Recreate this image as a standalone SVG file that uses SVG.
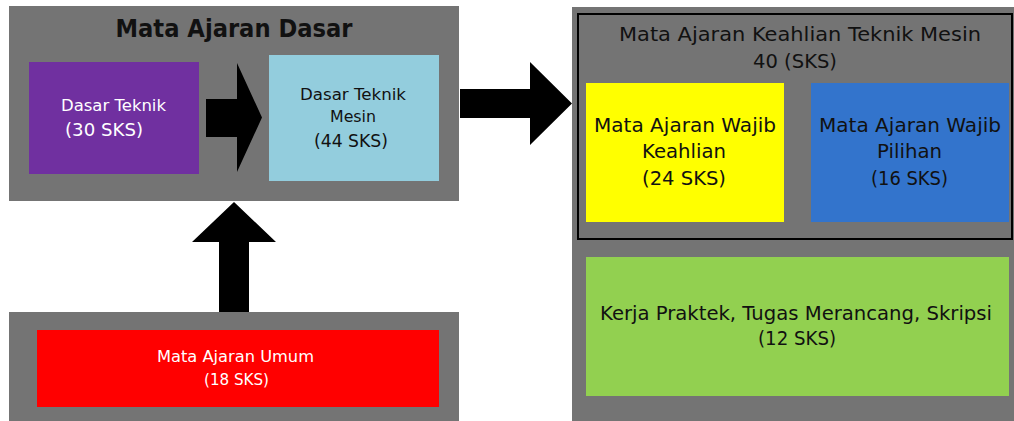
<svg xmlns="http://www.w3.org/2000/svg" width="1014" height="421" viewBox="0 0 1014 421">
  <style>
    .panel { fill: #747474; }
    .t { font-family: "DejaVu Sans", "Liberation Sans", sans-serif; text-anchor: middle; fill: #111111; }
    .w { fill: #ffffff; }
    .arrow { fill: #000000; }
  </style>
  <rect width="1014" height="421" fill="#ffffff"/>

  <!-- Basic courses panel -->
  <g id="dasar">
    <rect class="panel" x="9" y="6" width="450" height="195"/>
    <text class="t" x="234" y="37" font-size="24" font-weight="bold" textLength="237" lengthAdjust="spacingAndGlyphs">Mata Ajaran Dasar</text>
  </g>

  <g id="dasar-teknik">
    <rect x="29" y="62" width="170" height="112" fill="#7030A0"/>
    <text class="t w" x="113.5" y="111" font-size="16.5" textLength="105" lengthAdjust="spacingAndGlyphs">Dasar Teknik</text>
    <text class="t w" x="104" y="136" font-size="18" textLength="78" lengthAdjust="spacingAndGlyphs">(30 SKS)</text>
  </g>

  <g id="dasar-teknik-mesin">
    <rect x="269" y="55" width="170" height="126" fill="#93CDDD"/>
    <text class="t" x="353" y="100" font-size="16" textLength="106" lengthAdjust="spacingAndGlyphs">Dasar Teknik</text>
    <text class="t" x="353" y="122" font-size="16" textLength="46" lengthAdjust="spacingAndGlyphs">Mesin</text>
    <text class="t" x="351" y="147" font-size="18" textLength="74" lengthAdjust="spacingAndGlyphs">(44 SKS)</text>
  </g>

  <!-- General courses -->
  <g id="umum">
    <rect class="panel" x="9" y="312" width="450" height="109"/>
    <rect x="37" y="330" width="402" height="77" fill="#FF0000"/>
    <text class="t w" x="235.5" y="362" font-size="16" textLength="157" lengthAdjust="spacingAndGlyphs">Mata Ajaran Umum</text>
    <text class="t w" x="236.5" y="385" font-size="16" textLength="65" lengthAdjust="spacingAndGlyphs">(18 SKS)</text>
  </g>

  <!-- Mechanical engineering specialisation -->
  <g id="keahlian">
    <rect class="panel" x="572" y="7" width="442" height="414"/>
    <rect x="578" y="14" width="434" height="225" fill="none" stroke="#000000" stroke-width="2"/>
    <text class="t" x="800" y="41" font-size="20" textLength="362" lengthAdjust="spacingAndGlyphs">Mata Ajaran Keahlian Teknik Mesin</text>
    <text class="t" x="795" y="68" font-size="20" textLength="84" lengthAdjust="spacingAndGlyphs">40 (SKS)</text>
  </g>

  <g id="wajib-keahlian">
    <rect x="586" y="83" width="198" height="139" fill="#FFFF00"/>
    <text class="t" x="685" y="132" font-size="19.5" textLength="182" lengthAdjust="spacingAndGlyphs">Mata Ajaran Wajib</text>
    <text class="t" x="684" y="158" font-size="19.5" textLength="84" lengthAdjust="spacingAndGlyphs">Keahlian</text>
    <text class="t" x="684" y="185" font-size="19.5" textLength="84" lengthAdjust="spacingAndGlyphs">(24 SKS)</text>
  </g>

  <g id="wajib-pilihan">
    <rect x="811" y="83" width="198" height="139" fill="#3374CC"/>
    <text class="t" x="910" y="132" font-size="19.5" textLength="182" lengthAdjust="spacingAndGlyphs">Mata Ajaran Wajib</text>
    <text class="t" x="909.5" y="158" font-size="19.5" textLength="65" lengthAdjust="spacingAndGlyphs">Pilihan</text>
    <text class="t" x="909.5" y="185" font-size="19.5" textLength="77" lengthAdjust="spacingAndGlyphs">(16 SKS)</text>
  </g>

  <g id="kerja-praktek">
    <rect x="586" y="257" width="423" height="139" fill="#92D050"/>
    <text class="t" x="796" y="320" font-size="20" textLength="392" lengthAdjust="spacingAndGlyphs">Kerja Praktek, Tugas Merancang, Skripsi</text>
    <text class="t" x="797" y="345" font-size="20" textLength="78" lengthAdjust="spacingAndGlyphs">(12 SKS)</text>
  </g>

  <!-- Block arrows -->
  <g id="connectors">
    <polygon class="arrow" points="206,99 237,99 237,63 262,117.5 237,172 237,137 206,137"/>
    <polygon class="arrow" points="460,89 530,89 530,62 572,103.5 530,145 530,118 460,118"/>
    <polygon class="arrow" points="219,312 219,242 192,242 234,202 276,242 249,242 249,312"/>
  </g>
</svg>
